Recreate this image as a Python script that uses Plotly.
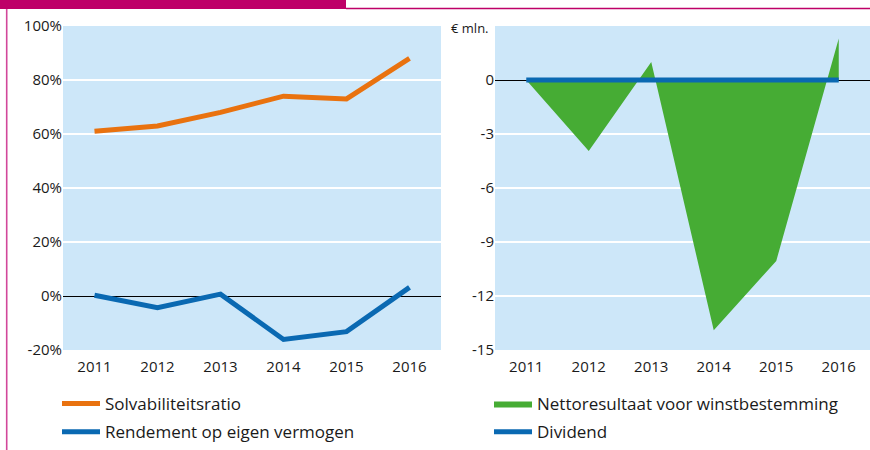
import plotly.graph_objects as go

# Years shown on both panels
years = [2011, 2012, 2013, 2014, 2015, 2016]

# Left panel: ratios in percent
solvabiliteit = [61, 63, 68, 74, 73, 88]
rendement = [0.3, -4.3, 0.7, -16.1, -13.2, 3.2]

# Right panel: amounts in € million
nettoresultaat = [0.0, -3.95, 1.0, -13.9, -10.05, 2.3]
dividend = [0, 0, 0, 0, 0, 0]

left_ticks = [-20, 0, 20, 40, 60, 80, 100]
left_ticktext = [f"{v}%" for v in left_ticks]
right_ticks = [-15, -12, -9, -6, -3, 0]
right_ticktext = [str(v) for v in right_ticks]

ORANGE = "#E9720F"
BLUE = "#0A69B2"
GREEN = "#46AC34"
PANEL_BG = "#CDE7F9"
MAGENTA = "#BE0068"
FONT = "Open Sans"
TEXT = "#1a1a1a"

W, H = 870, 450
fig = go.Figure()

fig.add_trace(go.Scatter(
    x=years, y=solvabiliteit, mode="lines", name="Solvabiliteitsratio",
    line=dict(color=ORANGE, width=5), xaxis="x", yaxis="y",
    legend="legend", legendgroup="a"))
fig.add_trace(go.Scatter(
    x=years, y=rendement, mode="lines", name="Rendement op eigen vermogen",
    line=dict(color=BLUE, width=5), xaxis="x", yaxis="y",
    legend="legend", legendgroup="b"))

fig.add_trace(go.Scatter(
    x=years, y=nettoresultaat, mode="lines", name="Nettoresultaat voor winstbestemming",
    line=dict(color=GREEN, width=0), fill="tozeroy", fillcolor=GREEN,
    xaxis="x2", yaxis="y2", legend="legend2", legendgroup="c"))
fig.add_trace(go.Scatter(
    x=years, y=dividend, mode="lines", name="Dividend",
    line=dict(color=BLUE, width=5), xaxis="x2", yaxis="y2",
    legend="legend2", legendgroup="d"))

ydom = [1 - 350 / H, 1 - 26 / H]
tickfont = dict(family=FONT, size=15, color=TEXT)

common_x = dict(range=[2010.5, 2016.5], tickvals=years, ticktext=[str(y) for y in years],
                showgrid=False, zeroline=False, showline=False, ticks="",
                ticklabelstandoff=6, tickfont=tickfont, fixedrange=True, automargin=False)
common_y = dict(showgrid=True, gridcolor="white", gridwidth=1.5,
                zeroline=True, zerolinecolor="black", zerolinewidth=1,
                showline=False, ticks="", tickfont=tickfont, fixedrange=True,
                automargin=False)

# Legends sit at the bottom edge of the page so they never push the margins
legend_common = dict(xanchor="left", yanchor="bottom", y=0,
                     bgcolor="rgba(0,0,0,0)", font=dict(family=FONT, size=17, color=TEXT),
                     tracegroupgap=3, itemwidth=38, traceorder="grouped")

fig.update_layout(
    width=W, height=H,
    margin=dict(l=0, r=0, t=0, b=0),
    paper_bgcolor="white",
    plot_bgcolor=PANEL_BG,
    font=dict(family=FONT, size=14, color=TEXT),
    xaxis=dict(domain=[63 / W, 441 / W], anchor="y", **common_x),
    yaxis=dict(domain=ydom, anchor="x", range=[-20, 100], tickvals=left_ticks,
               ticktext=left_ticktext, **common_y),
    xaxis2=dict(domain=[495 / W, 1.0], anchor="y2", **common_x),
    yaxis2=dict(domain=ydom, anchor="x2", range=[-15, 3], tickvals=right_ticks,
                ticktext=right_ticktext, **common_y),
    legend=dict(x=57 / W, **legend_common),
    legend2=dict(x=489 / W, **legend_common),
    showlegend=True,
)

# Unit label above the right-hand value axis
fig.add_annotation(text="€ mln.", xref="paper", yref="paper",
                   x=491 / W, y=1 - 28 / H, xanchor="right", yanchor="middle",
                   showarrow=False, font=dict(family=FONT, size=13, color=TEXT))

# Page frame: header bar, rule along the top and line down the left side
fig.add_shape(type="rect", xref="paper", yref="paper",
              x0=0, x1=346 / W, y0=1 - 9 / H, y1=1,
              fillcolor=MAGENTA, line=dict(width=0), layer="above")
fig.add_shape(type="line", xref="paper", yref="paper",
              x0=346 / W, x1=1, y0=1 - 8.5 / H, y1=1 - 8.5 / H,
              line=dict(color=MAGENTA, width=1.5))
fig.add_shape(type="line", xref="paper", yref="paper",
              x0=6.7 / W, x1=6.7 / W, y0=0, y1=1 - 9 / H,
              line=dict(color="#D2479A", width=1.6))

fig.write_html("out.html")
